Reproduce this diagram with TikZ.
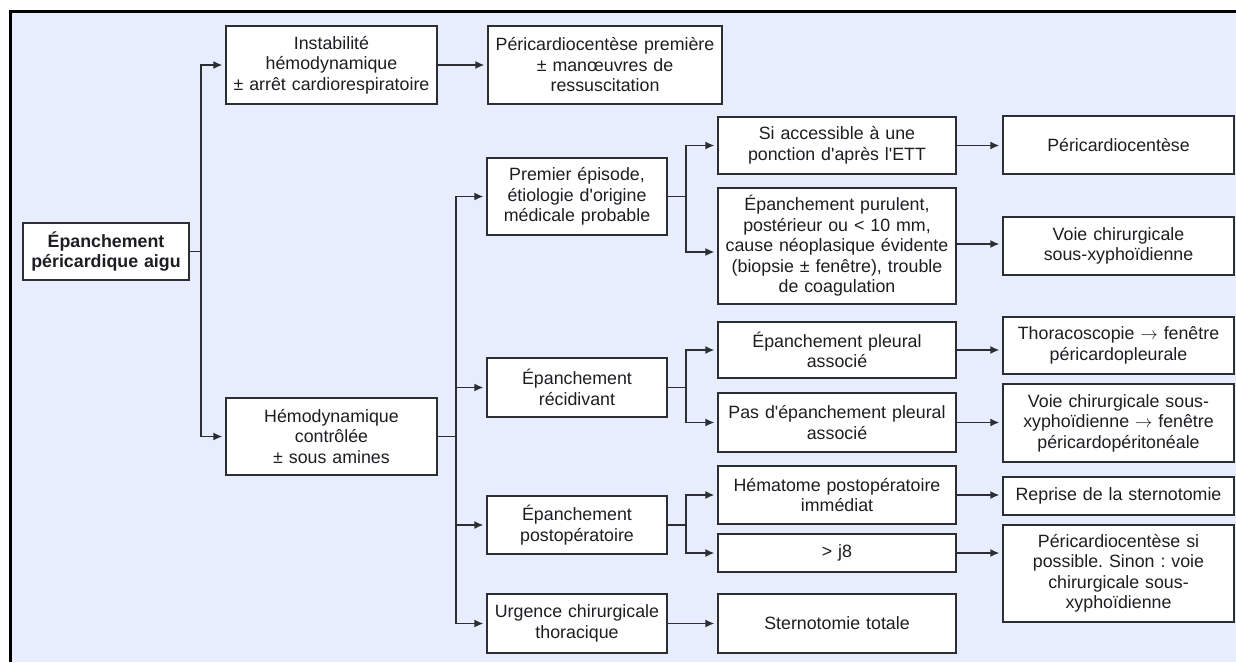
\documentclass[tikz,border=0pt]{standalone}
\usepackage{fontspec}
\setmainfont{Liberation Sans}[Ligatures=TeXOff]
\usetikzlibrary{arrows.meta}
\frenchspacing

\definecolor{bgblue}{RGB}{231,237,252}
\definecolor{boxline}{RGB}{45,45,52}
\definecolor{txt}{RGB}{30,30,34}

\begin{document}
\begin{tikzpicture}[x=1pt, y=-1pt,
    box/.style={draw=boxline, fill=white, line width=1.4pt, align=center, inner xsep=2pt, inner ysep=0pt,
                text=txt, font=\fontsize{17.8}{20.5}\selectfont},
    link/.style={draw=boxline, line width=1.4pt},
    arr/.style={link, -{Latex[length=9pt,width=8pt]}, shorten >=3pt}]
        % Frame
        \useasboundingbox (0,0) rectangle (1236,662);
        \fill[bgblue] (11,11) rectangle (1236,662);
        \draw[line width=3.5pt] (10.5,662) -- (10.5,11.5) -- (1236,11.5);
        % Boxes
        \node (root) at (106,251.5) [box, text width=162pt, minimum height=57pt] {\textbf{Épanchement}\\\textbf{péricardique aigu}};
        \node (instab) at (331.5,65) [box, text width=207pt, minimum height=78pt] {Instabilité\\hémodynamique\\± arrêt cardiorespiratoire};
        \node (hemo) at (331.5,436.5) [box, text width=207pt, minimum height=77pt] {Hémodynamique\\contrôlée\\± sous amines};
        \node (perifirst) at (605,65) [box, text width=230pt, minimum height=78pt] {Péricardiocentèse première\\± manœuvres de\\ressuscitation};
        \node (premier) at (577,196.5) [box, text width=176pt, minimum height=77pt] {Premier épisode,\\étiologie d'origine\\médicale probable};
        \node (recid) at (577,387.5) [box, text width=176pt, minimum height=59pt] {Épanchement\\récidivant};
        \node (postop) at (577,525) [box, text width=176pt, minimum height=58pt] {Épanchement\\postopératoire};
        \node (urgence) at (577,623.5) [box, text width=176pt, minimum height=59pt] {Urgence chirurgicale\\thoracique};
        \node (access) at (837,145.5) [box, text width=234pt, minimum height=57pt] {Si accessible à une\\ponction d'après l'ETT};
        \node (purul) at (837,246) [box, text width=234pt, minimum height=116pt] {Épanchement purulent,\\postérieur ou < 10 mm,\\cause néoplasique évidente\\(biopsie ± fenêtre), trouble\\de coagulation};
        \node (pleur) at (837,350) [box, text width=234pt, minimum height=56pt] {Épanchement pleural\\associé};
        \node (nopleur) at (837,422.5) [box, text width=234pt, minimum height=59pt] {Pas d'épanchement pleural\\associé};
        \node (hemat) at (837,495) [box, text width=234pt, minimum height=58pt] {Hématome postopératoire\\immédiat};
        \node (j8) at (837,553) [box, text width=234pt, minimum height=38pt] {> j8};
        \node (sterno) at (837,623.5) [box, text width=234pt, minimum height=59pt] {Sternotomie totale};
        \node (pericent) at (1118.5,145) [box, text width=227pt, minimum height=58pt] {Péricardiocentèse};
        \node (voie) at (1118.5,246) [box, text width=227pt, minimum height=58pt] {Voie chirurgicale\\sous-xyphoïdienne};
        \node (thoraco) at (1118.5,345.5) [box, text width=227pt, minimum height=57pt] {Thoracoscopie $\rightarrow$ fenêtre\\péricardopleurale};
        \node (peritvoie) at (1118.5,423) [box, text width=227pt, minimum height=78pt] {Voie chirurgicale sous-\\xyphoïdienne $\rightarrow$ fenêtre\\péricardopéritonéale};
        \node (reprise) at (1118.5,496) [box, text width=227pt, minimum height=38pt] {Reprise de la sternotomie};
        \node (pericsi) at (1118.5,573.5) [box, text width=227pt, minimum height=97pt] {Péricardiocentèse si\\possible. Sinon : voie\\chirurgicale sous-\\xyphoïdienne};
        % Split points
        \coordinate (s0) at (201,251.5);
        \coordinate (s1) at (456,436.5);
        \coordinate (s2) at (686,196.5);
        \coordinate (s3) at (686,387.5);
        \coordinate (s4) at (686,525);
        % Connectors
        \draw[link] (root) -- (s0);
        \draw[arr] (s0) |- (instab);
        \draw[arr] (s0) |- (hemo);
        \draw[arr] (instab) -- (perifirst);
        \draw[link] (hemo) -- (s1);
        \draw[arr] (s1) |- (premier);
        \draw[arr] (s1) |- (recid);
        \draw[arr] (s1) |- (postop);
        \draw[arr] (s1) |- (urgence);
        \draw[link] (premier) -- (s2);
        \draw[arr] (s2) |- (access);
        \draw[arr] (s2) |- ([yshift=-6pt]purul.west);
        \draw[link] (recid) -- (s3);
        \draw[arr] (s3) |- (pleur);
        \draw[arr] (s3) |- (nopleur);
        \draw[link] (postop) -- (s4);
        \draw[arr] (s4) |- (hemat);
        \draw[arr] (s4) |- (j8);
        \draw[arr] (urgence) -- (sterno);
        \draw[arr] (access.east) -- (access.east -| pericent.west);
        \draw[arr] ([yshift=2pt]purul.east) -- ([yshift=2pt]purul.east -| voie.west);
        \draw[arr] (pleur.east) -- (pleur.east -| thoraco.west);
        \draw[arr] (nopleur.east) -- (nopleur.east -| peritvoie.west);
        \draw[arr] (hemat.east) -- (hemat.east -| reprise.west);
        \draw[arr] (j8.east) -- (j8.east -| pericsi.west);
    \end{tikzpicture}
\end{document}
